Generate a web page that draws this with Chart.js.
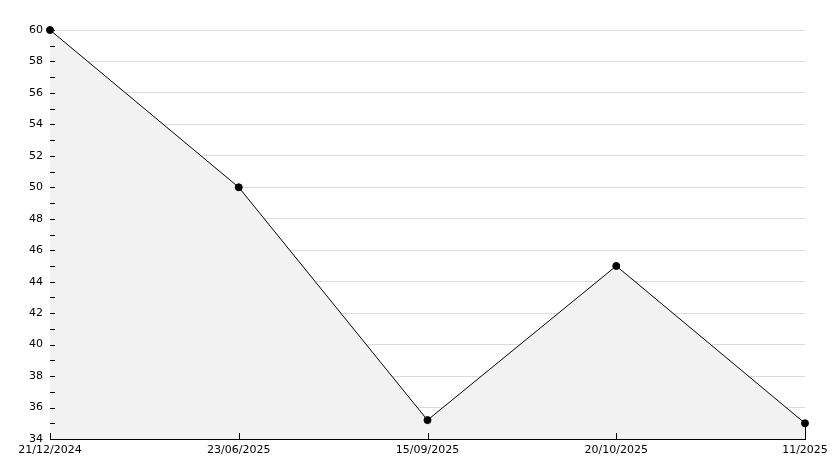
<!DOCTYPE html>
<html>
<head>
<meta charset="utf-8">
<script src="https://cdn.jsdelivr.net/npm/chart.js@4/dist/chart.umd.min.js"></script>
<style>
  body { margin: 0; background: #fff; }
  #wrap { width: 834px; height: 468px; position: relative; }
</style>
</head>
<body>
<div id="wrap"><canvas id="myChart"></canvas></div>
<script>
const labels = ['21/12/2024', '23/06/2025', '15/09/2025', '20/10/2025', '11/2025'];
const values = [60, 50, 35.2, 45, 35];
const yMin = 34;
const yMax = 60;

// small tick marks pointing into the plot, plus the closing edge of the area
const innerTicks = {
  id: 'innerTicks',
  afterDatasetsDraw(chart) {
    const { ctx, chartArea, scales } = chart;
    ctx.save();
    ctx.strokeStyle = '#000';
    ctx.lineWidth = 1;
    ctx.beginPath();
    for (let v = yMin; v <= yMax; v++) {
      const y = Math.round(scales.y.getPixelForValue(v)) + 0.5;
      ctx.moveTo(chartArea.left, y);
      ctx.lineTo(chartArea.left + 5, y);
    }
    labels.forEach((l, i) => {
      const x = Math.round(scales.x.getPixelForValue(i)) + 0.5;
      ctx.moveTo(x, chartArea.bottom);
      ctx.lineTo(x, chartArea.bottom - 6);
    });
    const last = values.length - 1;
    const lx = Math.round(scales.x.getPixelForValue(last)) + 0.5;
    ctx.moveTo(lx, scales.y.getPixelForValue(values[last]));
    ctx.lineTo(lx, chartArea.bottom);
    ctx.stroke();
    ctx.restore();
  }
};

const chartData = {
  labels: labels,
  datasets: [{
    data: values,
    borderColor: '#000',
    borderWidth: 1,
    backgroundColor: '#f2f2f2',
    fill: 'origin',
    tension: 0,
    pointStyle: 'circle',
    pointRadius: 3.5,
    pointBackgroundColor: '#000',
    pointBorderColor: '#000',
    clip: false
  }]
};

const chartConfig = {
  type: 'line',
  data: chartData,
  plugins: [innerTicks],
  options: {
    responsive: true,
    maintainAspectRatio: false,
    animation: false,
    layout: { padding: { top: 30, right: 29, left: 0, bottom: 0 } },
    plugins: {
      legend: { display: false },
      tooltip: { enabled: false }
    },
    scales: {
      x: {
        offset: false,
        afterFit: (s) => { s.height = 29; },
        grid: { display: false, drawTicks: false },
        border: { display: true, color: '#000', width: 1 },
        ticks: {
          color: '#000',
          font: { family: 'DejaVu Sans', size: 11 },
          padding: 5,
          maxRotation: 0,
          autoSkip: false
        }
      },
      y: {
        min: yMin,
        max: yMax,
        afterFit: (s) => { s.width = 50; },
        grid: {
          drawTicks: false,
          color: (c) => (c.tick && c.tick.value % 2 === 0 && c.tick.value !== yMin) ? '#dcdcdc' : 'rgba(0,0,0,0)'
        },
        border: { display: true, color: '#000', width: 1 },
        ticks: {
          stepSize: 1,
          color: '#000',
          font: { family: 'DejaVu Sans', size: 11 },
          padding: 7,
          callback: (v) => v % 2 === 0 ? v : ''
        }
      }
    }
  }
};

const chartCanvas = document.getElementById('myChart');
const myChart = new Chart(chartCanvas.getContext('2d'), chartConfig);
</script>
</body>
</html>
